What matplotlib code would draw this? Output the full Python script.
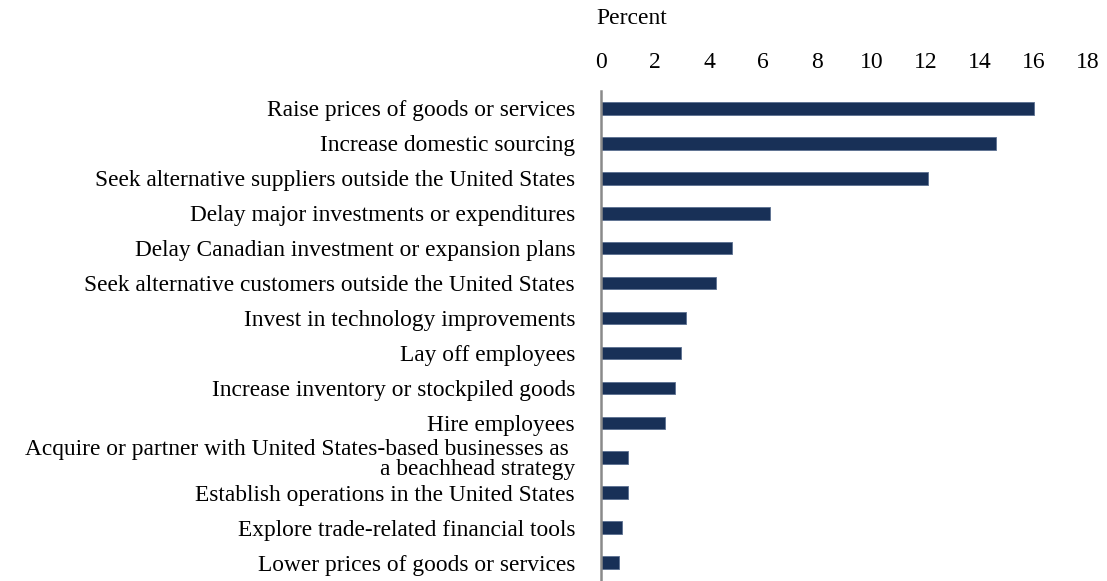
import matplotlib
matplotlib.use("Agg")
import matplotlib.pyplot as plt

categories = [
    "Raise prices of goods or services",
    "Increase domestic sourcing",
    "Seek alternative suppliers outside the United States",
    "Delay major investments or expenditures",
    "Delay Canadian investment or expansion plans",
    "Seek alternative customers outside the United States",
    "Invest in technology improvements",
    "Lay off employees",
    "Increase inventory or stockpiled goods",
    "Hire employees",
    "Acquire or partner with United States-based businesses as \na beachhead strategy",
    "Establish operations in the United States",
    "Explore trade-related financial tools",
    "Lower prices of goods or services",
]
values = [16.0, 14.6, 12.1, 6.25, 4.85, 4.25, 3.15, 2.95, 2.75, 2.35, 0.98, 0.98, 0.77, 0.68]
xticks = [0, 2, 4, 6, 8, 10, 12, 14, 16, 18]

plt.rcParams['font.family'] = ['Liberation Serif', 'DejaVu Serif']

fig = plt.figure(figsize=(11.07, 5.81), dpi=100)
ax = fig.add_axes([601/1107, 1 - 580/581, (1088-601)/1107, (580-91)/581])

ypos = list(range(len(categories)))
ax.barh(ypos, values, height=0.36, color='#183057', edgecolor='#5a6f90', linewidth=0.6)
ax.set_ylim(len(categories) - 0.5, -0.5)
ax.set_xlim(0, 18)
ax.set_yticks(ypos)
ax.set_yticklabels(categories, fontsize=16.8, color='black', multialignment='right', linespacing=0.95)
ax.set_xticks(xticks)
ax.set_xticklabels([str(t) for t in xticks], fontsize=17, color='black')
ax.xaxis.tick_top()
ax.tick_params(axis='x', length=0, pad=13)
ax.tick_params(axis='y', length=0, pad=18.7)
for s in ['top', 'right', 'bottom']:
    ax.spines[s].set_visible(False)
ax.spines['left'].set_color('#8a8a8a')
ax.spines['left'].set_linewidth(1.8)

fig.text(596/1107, 1 - 18/581, "Percent", fontsize=17, ha='left', va='center', color='black')

fig.savefig("out.png", dpi=100)
